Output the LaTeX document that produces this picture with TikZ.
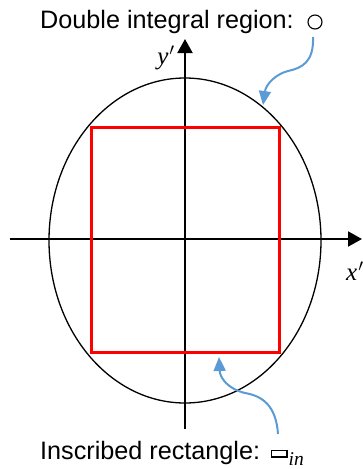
\documentclass[tikz,border=0pt]{standalone}
\usepackage{fontspec}
\setmainfont{Liberation Sans}
\newfontfamily\mathserif{Liberation Serif}
\usetikzlibrary{arrows.meta}
\definecolor{callout}{HTML}{5B9BD5}
\definecolor{rectred}{HTML}{FF0000}
\begin{document}
\begin{tikzpicture}[x=1pt,y=-1pt,
  axis/.style={line width=2pt,-{Triangle[length=14pt,width=15pt]}},
  region/.style={line width=1.3pt},
  inscribed/.style={draw=rectred,line width=3pt},
  calloutarrow/.style={draw=callout,line width=2pt,-{Triangle[length=14pt,width=12pt]}},
  label/.style={inner sep=0pt,font=\fontsize{25.2}{28}\selectfont},
  axislabel/.style={inner sep=0pt,font=\fontsize{25}{28}\selectfont\mathserif\itshape}
]
\useasboundingbox (0,0) rectangle (363,469);
% axes
\coordinate (xs) at (10,239);
\coordinate (xe) at (362,239);
\coordinate (ys) at (185,429);
\coordinate (ye) at (185,39);
\draw[axis] (xs) -- (xe);
\draw[axis] (ys) -- (ye);
% region
\draw[region] (185,240.5) ellipse [x radius=136, y radius=162.5];
% inscribed rectangle
\draw[inscribed] (91,127) rectangle (279,352);
% axis labels
\node[axislabel,anchor=center] (ylab) at (166,58) {y\kern1pt$'$};
\node[axislabel,anchor=west] (xlab) at (346,271) {x\kern1pt$'$};
% titles
\node[label,anchor=base west] (title) at (40,28) {Double integral region:};
\draw[line width=1.1pt] (315,22) circle [radius=7];
\node[label,anchor=base west] (bottom) at (40,459) {Inscribed rectangle:};
\draw[line width=1.5pt] (271.5,450.5) rectangle (287,457);
\node[inner sep=0pt,anchor=base west,font=\fontsize{19.5}{20}\selectfont\mathserif\itshape] (sub) at (288.5,465) {in};
% callouts
\coordinate (c1s) at (313,37);
\coordinate (c1e) at (263,105);
\coordinate (c2s) at (278,434);
\coordinate (c2e) at (219,357);
\draw[calloutarrow] (c1s) .. controls (314,62) and (302,68) .. (288,71) .. controls (276,74) and (266,84) .. (c1e);
\draw[calloutarrow] (c2s) .. controls (276,405) and (262,396) .. (245,393) .. controls (228,389) and (220,378) .. (c2e);
\end{tikzpicture}
\end{document}
